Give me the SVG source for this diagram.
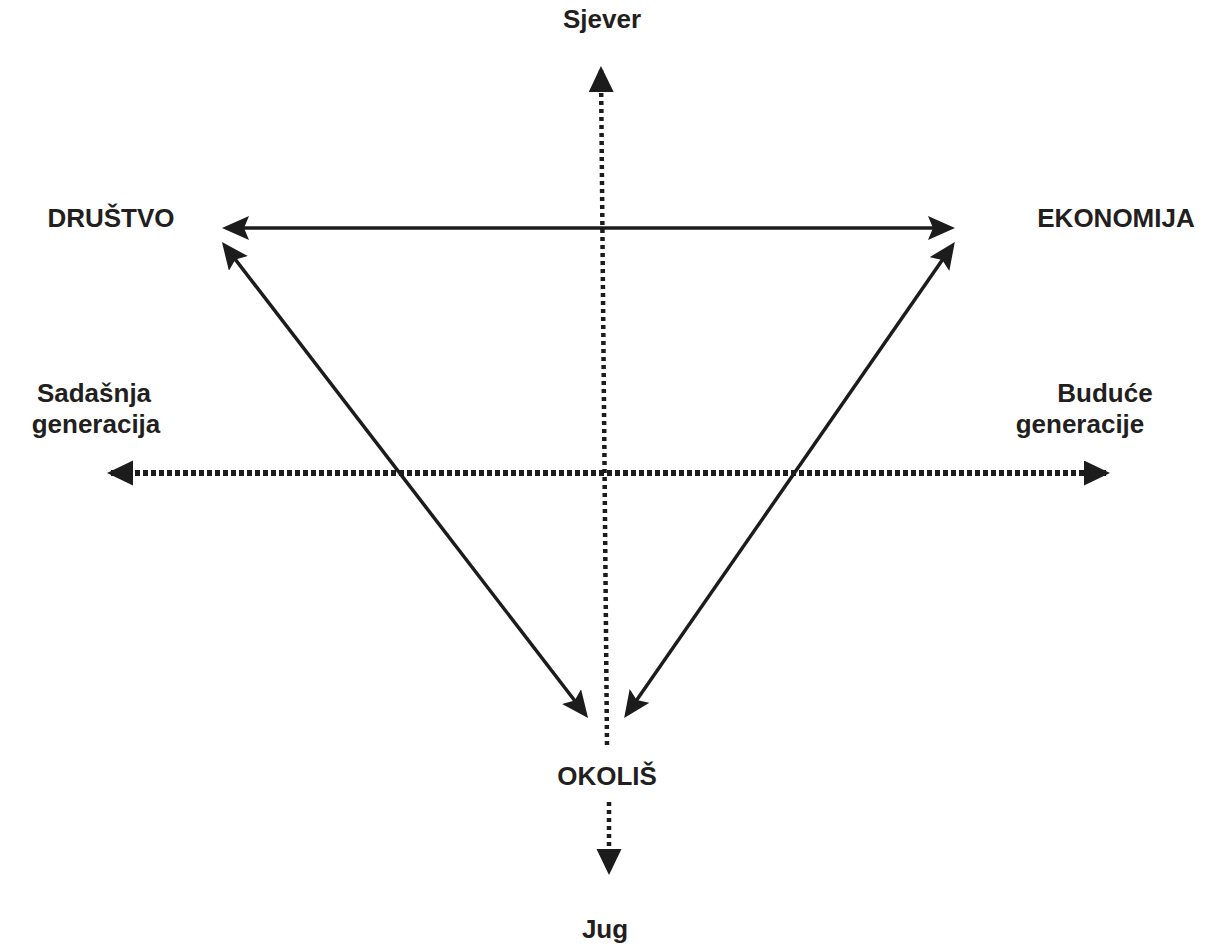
<svg xmlns="http://www.w3.org/2000/svg" width="1210" height="952" viewBox="0 0 1210 952">
  <style>
    .lbl { font-family: "Liberation Sans", Arial, sans-serif; font-weight: bold; font-size: 26px; fill: #231f20; text-anchor: middle; }
    .solid { stroke: #1c1c1c; stroke-width: 3.5; fill: none; }
    .dotH { stroke: #1c1c1c; stroke-width: 6; stroke-dasharray: 5 3; fill: none; }
    .dotV { stroke: #1c1c1c; stroke-width: 4.5; stroke-dasharray: 4 4; fill: none; }
  </style>
  <defs>
    <marker id="ah" markerUnits="userSpaceOnUse" markerWidth="28" markerHeight="28" viewBox="0 0 28 28" refX="22" refY="12" orient="auto-start-reverse">
      <path d="M0,0 L27,12 L0,24 L5,12 z" fill="#1c1c1c"/>
    </marker>
    <marker id="ahd" markerUnits="userSpaceOnUse" markerWidth="28" markerHeight="28" viewBox="0 0 28 28" refX="22" refY="12.5" orient="auto-start-reverse">
      <path d="M0,0 L26,12.5 L0,25 z" fill="#1c1c1c"/>
    </marker>
  </defs>
  <rect width="1210" height="952" fill="#ffffff"/>

  <g id="connectors">
    <line id="axis-ns-top" class="dotV" x1="607" y1="745" x2="601" y2="70" marker-end="url(#ahd)"/>
    <line id="axis-ns-bottom" class="dotV" x1="609" y1="802" x2="609" y2="871" marker-end="url(#ahd)"/>
    <line id="axis-gen" class="dotH" x1="111" y1="473" x2="1106" y2="473" marker-start="url(#ahd)" marker-end="url(#ahd)"/>
    <line id="drustvo-ekonomija" class="solid" x1="227" y1="228" x2="950" y2="228" marker-start="url(#ah)" marker-end="url(#ah)"/>
    <line id="drustvo-okolis" class="solid" x1="225" y1="246" x2="585" y2="714" marker-start="url(#ah)" marker-end="url(#ah)"/>
    <line id="ekonomija-okolis" class="solid" x1="952" y1="246" x2="627" y2="714" marker-start="url(#ah)" marker-end="url(#ah)"/>
  </g>

  <g id="node-sjever"><text class="lbl" x="602" y="28">Sjever</text></g>
  <g id="node-drustvo"><text class="lbl" x="111" y="227">DRUŠTVO</text></g>
  <g id="node-ekonomija"><text class="lbl" x="1116" y="227">EKONOMIJA</text></g>
  <g id="node-sadasnja">
    <text class="lbl" x="94" y="402">Sadašnja</text>
    <text class="lbl" x="96" y="433">generacija</text>
  </g>
  <g id="node-buduce">
    <text class="lbl" x="1105" y="402">Buduće</text>
    <text class="lbl" x="1080" y="433">generacije</text>
  </g>
  <g id="node-okolis"><text class="lbl" x="607" y="785">OKOLIŠ</text></g>
  <g id="node-jug"><text class="lbl" x="605" y="938">Jug</text></g>
</svg>
